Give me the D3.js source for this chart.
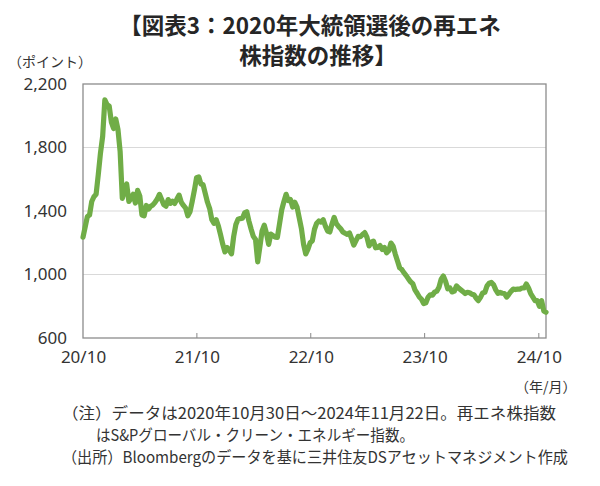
<!DOCTYPE html>
<html><head><meta charset="utf-8">
<script src="https://cdn.jsdelivr.net/npm/d3@7"></script>
<style>
html,body{margin:0;padding:0;background:#fff;}
svg{display:block;}
text{font-family:"Noto Sans CJK JP","Noto Sans",sans-serif;fill:#333;}
</style></head><body>
<svg id="chart" width="600" height="486"></svg>
<script>
// ---- data (weekly readings, 2020-10-30 .. 2024-11-22) ----
const startDate = "2020-10-30";
const endDate = "2024-11-22";
const values = [
1235,1300,1365,1375,1460,1490,1505,1630,1765,1870,
2100,2070,2060,1960,1920,1980,1915,1775,1480,1530,
1570,1460,1480,1505,1450,1530,1495,1375,1370,1435,
1412,1430,1438,1455,1475,1505,1472,1440,1430,1472,
1448,1462,1448,1475,1500,1455,1435,1418,1370,1395,
1460,1530,1610,1615,1570,1565,1510,1455,1415,1345,
1322,1345,1305,1250,1190,1142,1170,1152,1130,1240,
1315,1348,1352,1355,1388,1395,1335,1285,1240,1220,
1080,1175,1275,1310,1260,1190,1255,1245,1235,1234,
1320,1408,1460,1505,1465,1472,1425,1455,1425,1358,
1290,1190,1130,1160,1200,1212,1285,1323,1337,1330,
1345,1305,1274,1268,1318,1360,1320,1303,1288,1268,
1260,1253,1262,1225,1185,1213,1240,1238,1252,1264,
1235,1180,1204,1210,1168,1171,1182,1158,1170,1137,
1150,1198,1178,1128,1085,1042,1031,1010,993,972,
954,942,903,882,858,844,817,822,857,872,
870,889,895,920,970,990,958,910,915,890,
895,928,914,903,892,880,888,885,876,872,
852,835,856,884,888,928,945,950,935,903,
882,887,882,880,858,875,894,908,905,908,
908,915,915,940,915,880,858,835,835,800,
835,770,762
];
const yTicks = [600, 1000, 1400, 1800, 2200];
const gridValues = [1000, 1400, 1800];
const xTickDates = ["2020-10-30","2021-10-30","2022-10-30","2023-10-30","2024-10-30"];
const xTickLabels = ["20/10","21/10","22/10","23/10","24/10"];
const titleLines = ["【図表3：2020年大統領選後の再エネ","株指数の推移】"];
const yUnit = "（ポイント）";
const xUnit = "（年/月）";
const notes = [
  "（注）データは2020年10月30日～2024年11月22日。再エネ株指数",
  "はS&Pグローバル・クリーン・エネルギー指数。",
  "（出所）Bloombergのデータを基に三井住友DSアセットマネジメント作成"
];

// ---- layout ----
const parse = d3.utcParse("%Y-%m-%d");
const t0 = parse(startDate);
const data = values.map((v, i) => ({date: d3.utcDay.offset(t0, 7 * i), value: v}));
const L = 83, R = 546, T = 84, B = 338;

const svg = d3.select("#chart");
const x = d3.scaleUtc().domain([t0, parse(endDate)]).range([L, R]);
const y = d3.scaleLinear().domain([600, 2200]).range([B, T]);

// title
svg.append("g").selectAll("text").data(titleLines).join("text")
  .attr("x", (d, i) => i === 0 ? 310 : 318)
  .attr("y", (d, i) => 34 + i * 30)
  .attr("text-anchor", "middle")
  .style("font-size", "22.5px").style("font-weight", "bold").style("fill", "#262626")
  .text(d => d);

// gridlines
svg.append("g").selectAll("line").data(gridValues).join("line")
  .attr("x1", L).attr("x2", R)
  .attr("y1", d => y(d)).attr("y2", d => y(d))
  .attr("stroke", "#d9d9d9").attr("stroke-width", 1.2);

// y axis labels
const yAxis = d3.axisLeft(y).tickValues(yTicks).tickSize(0).tickPadding(16)
  .tickFormat(d3.format(","));
const gy = svg.append("g").attr("transform", `translate(${L},0)`).call(yAxis);
gy.select(".domain").remove();
gy.selectAll("text").style("font-family", "'Noto Sans',sans-serif").style("font-size", "17px").style("fill", "#333");

// x axis
const xAxis = d3.axisBottom(x).tickValues(xTickDates.map(parse)).tickSize(0).tickPadding(13)
  .tickFormat((d, i) => xTickLabels[i]);
const gx = svg.append("g").attr("transform", `translate(0,${B})`).call(xAxis);
gx.select(".domain").remove();
gx.selectAll("text").style("font-family", "'Noto Sans',sans-serif").style("font-size", "17px").style("fill", "#333");
// inner tick marks
svg.append("g").selectAll("line").data(xTickDates.slice(1).map(parse)).join("line")
  .attr("x1", d => x(d)).attr("x2", d => x(d))
  .attr("y1", B).attr("y2", B - 5)
  .attr("stroke", "#888").attr("stroke-width", 1);

// frame
svg.append("rect").attr("x", L).attr("y", T).attr("width", R - L).attr("height", B - T)
  .attr("fill", "none").attr("stroke", "#8c8c8c").attr("stroke-width", 1.3);

// line
const line = d3.line().x(d => x(d.date)).y(d => y(d.value)).curve(d3.curveLinear);
svg.append("path").datum(data).attr("d", line)
  .attr("fill", "none").attr("stroke", "#70ad47").attr("stroke-width", 5.2)
  .attr("stroke-linejoin", "round").attr("stroke-linecap", "round");

// units
svg.append("text").attr("x", 8).attr("y", 67).style("font-size", "14px").text(yUnit);
svg.append("text").attr("x", 515).attr("y", 392).style("font-size", "14px").text(xUnit);

// notes
const noteX = [62, 96, 62];
const noteY = [419, 441, 463];
const noteW = [494, 318, 506];
svg.append("g").selectAll("text").data(notes).join("text")
  .attr("x", (d, i) => noteX[i]).attr("y", (d, i) => noteY[i])
  .attr("textLength", (d, i) => noteW[i]).attr("lengthAdjust", "spacingAndGlyphs")
  .style("font-size", "15.5px").style("fill", "#333")
  .text(d => d);
</script>
</body></html>
